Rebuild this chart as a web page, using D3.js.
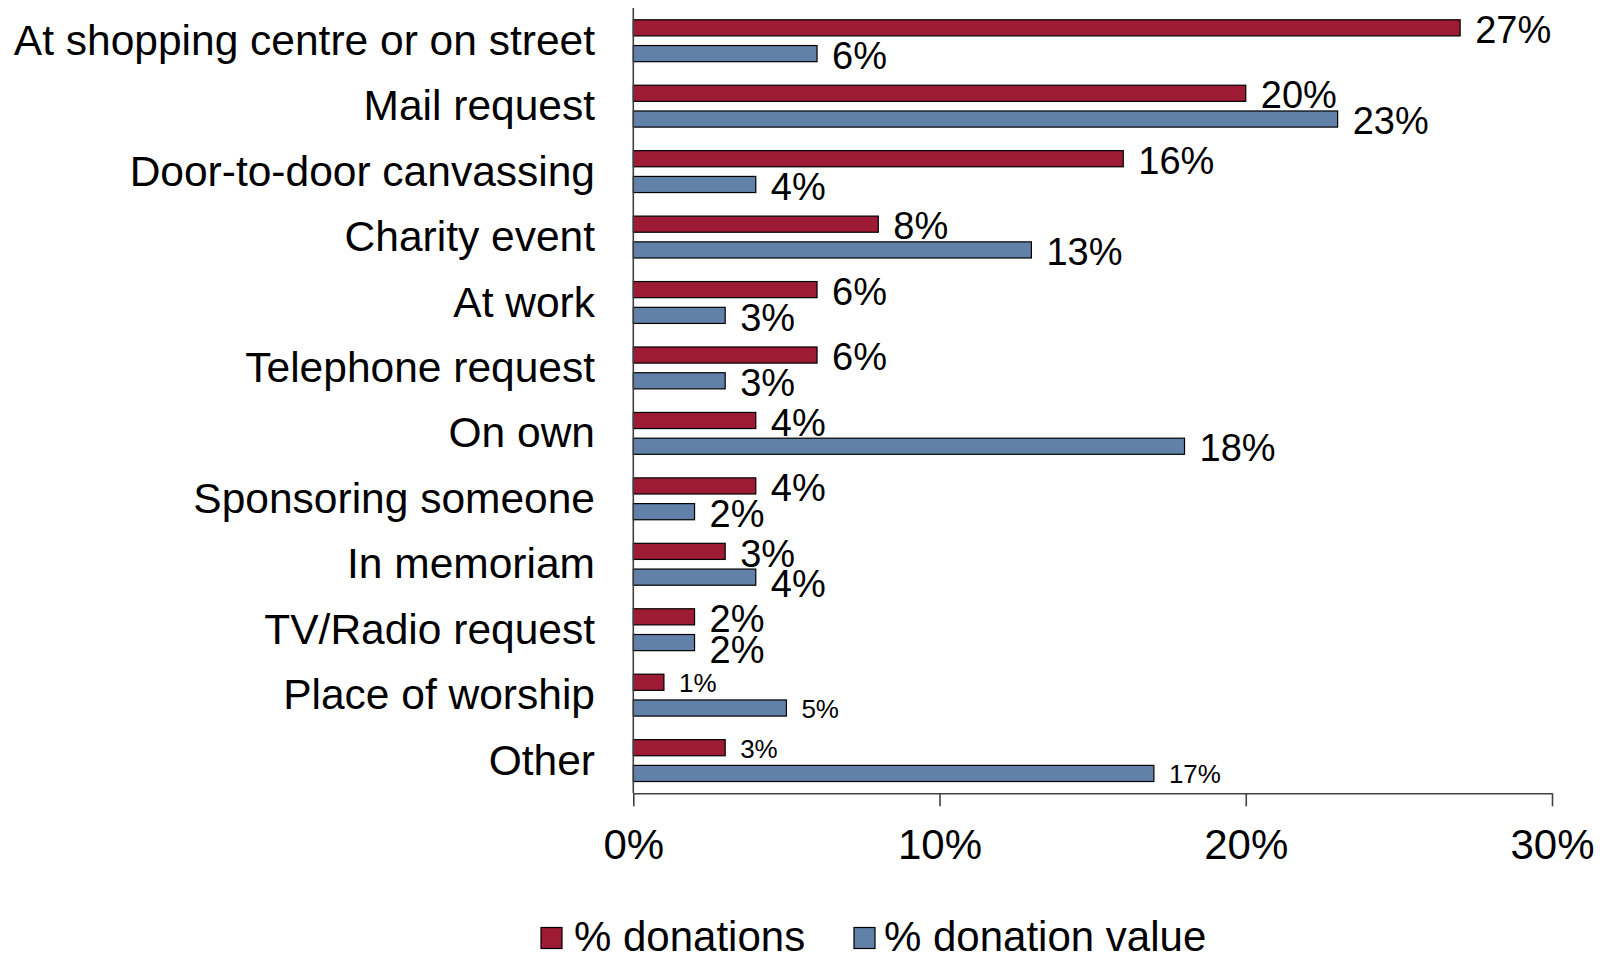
<!DOCTYPE html>
<html>
<head>
<meta charset="utf-8">
<script src="https://cdn.jsdelivr.net/npm/d3@7"></script>
<style>
  html, body { margin: 0; padding: 0; background: #fff; }
  svg { display: block; font-family: "Liberation Sans", Arial, sans-serif; }
</style>
</head>
<body>
<svg id="chart" width="1608" height="957"></svg>
<script>
// Ways of giving: share of donations and share of donation value (%)
const categories = [
  "At shopping centre or on street",
  "Mail request",
  "Door-to-door canvassing",
  "Charity event",
  "At work",
  "Telephone request",
  "On own",
  "Sponsoring someone",
  "In memoriam",
  "TV/Radio request",
  "Place of worship",
  "Other"
];
const seriesNames = ["% donations", "% donation value"];
const donations     = [27, 20, 16, 8, 6, 6, 4, 4, 3, 2, 1, 3];
const donationValue = [6, 23, 4, 13, 3, 3, 18, 2, 4, 2, 5, 17];
const xTicks = [0, 10, 20, 30];
const xTickLabels = ["0%", "10%", "20%", "30%"];

const colors = { "% donations": "#9D1B34", "% donation value": "#6181A9" };

const rows = categories.map((c, i) => ({
  category: c,
  values: [
    { key: seriesNames[0], value: donations[i] },
    { key: seriesNames[1], value: donationValue[i] }
  ]
}));

const svg = d3.select("#chart");
const plot = { left: 633.3, right: 1552, top: 8, bottom: 793.3 };

const x = d3.scaleLinear().domain([0, 30]).range([plot.left, plot.right]);
const y = d3.scaleBand().domain(categories).range([plot.top, plot.bottom]).padding(0);
const groupPad = y.bandwidth() * 0.18;
const ySub = d3.scaleBand().domain(seriesNames)
  .range([groupPad, y.bandwidth() - groupPad]).paddingInner(0.374);

// Smaller value labels on the last two groups
const smallLabelGroups = new Set(["Place of worship", "Other"]);

const groups = svg.append("g").selectAll("g.group")
  .data(rows).join("g")
  .attr("class", "group")
  .attr("transform", d => `translate(0,${y(d.category)})`);

groups.selectAll("rect")
  .data(d => d.values).join("rect")
  .attr("x", x(0))
  .attr("y", d => ySub(d.key))
  .attr("width", d => x(d.value) - x(0))
  .attr("height", ySub.bandwidth())
  .attr("fill", d => colors[d.key])
  .attr("stroke", "#000")
  .attr("stroke-width", 1.2);

groups.each(function (row) {
  const small = smallLabelGroups.has(row.category);
  const labels = d3.select(this).selectAll("text.val")
    .data(row.values).join("text")
    .attr("class", "val")
    .attr("x", d => x(d.value) + 15)
    .attr("y", d => ySub(d.key) + ySub.bandwidth() / 2)
    .attr("dy", small ? "0.38em" : "0.4em")
    .attr("font-size", small ? 26 : 38)
    .attr("fill", "#000")
    .text(d => d.value + "%");

  // Nudge the second label down when it collides with the first
  const nodes = labels.nodes();
  const a = nodes[0].getBBox(), b = nodes[1].getBBox();
  const overlapX = a.x < b.x + b.width && b.x < a.x + a.width;
  if (overlapX && a.y + a.height > b.y + 4) {
    d3.select(nodes[1]).attr("y", +d3.select(nodes[1]).attr("y") + 5);
  }
});

// Category labels
svg.append("g").selectAll("text")
  .data(categories).join("text")
  .attr("x", 595)
  .attr("y", d => y(d) + y.bandwidth() / 2)
  .attr("dy", "0.33em")
  .attr("text-anchor", "end")
  .attr("font-size", 42.5)
  .attr("fill", "#000")
  .text(d => d);

// Vertical category axis line
svg.append("line")
  .attr("x1", plot.left).attr("x2", plot.left)
  .attr("y1", plot.top).attr("y2", plot.bottom)
  .attr("stroke", "#404040").attr("stroke-width", 1.6);

// Horizontal value axis
const xAxis = d3.axisBottom(x)
  .tickValues(xTicks)
  .tickFormat((d, i) => xTickLabels[i])
  .tickSize(13)
  .tickSizeOuter(0)
  .tickPadding(0);

const xg = svg.append("g")
  .attr("transform", `translate(0,${plot.bottom})`)
  .call(xAxis);
xg.select(".domain").attr("stroke", "#404040").attr("stroke-width", 1.6);
xg.selectAll(".tick line").attr("stroke", "#404040").attr("stroke-width", 1.6);
xg.selectAll(".tick text")
  .attr("font-size", 42)
  .attr("font-family", "\"Liberation Sans\", Arial, sans-serif")
  .attr("fill", "#000")
  .attr("dy", null)
  .attr("y", 65.7);

// Legend
const legendItems = [
  { key: seriesNames[0], sx: 541, tx: 574 },
  { key: seriesNames[1], sx: 854, tx: 884 }
];
const legend = svg.append("g");
legend.selectAll("rect")
  .data(legendItems).join("rect")
  .attr("x", d => d.sx).attr("y", 927.5)
  .attr("width", 21).attr("height", 21)
  .attr("fill", d => colors[d.key])
  .attr("stroke", "#000").attr("stroke-width", 1.2);
legend.selectAll("text")
  .data(legendItems).join("text")
  .attr("x", d => d.tx).attr("y", 950.5)
  .attr("font-size", 42)
  .attr("fill", "#000")
  .text(d => d.key);
</script>
</body>
</html>
